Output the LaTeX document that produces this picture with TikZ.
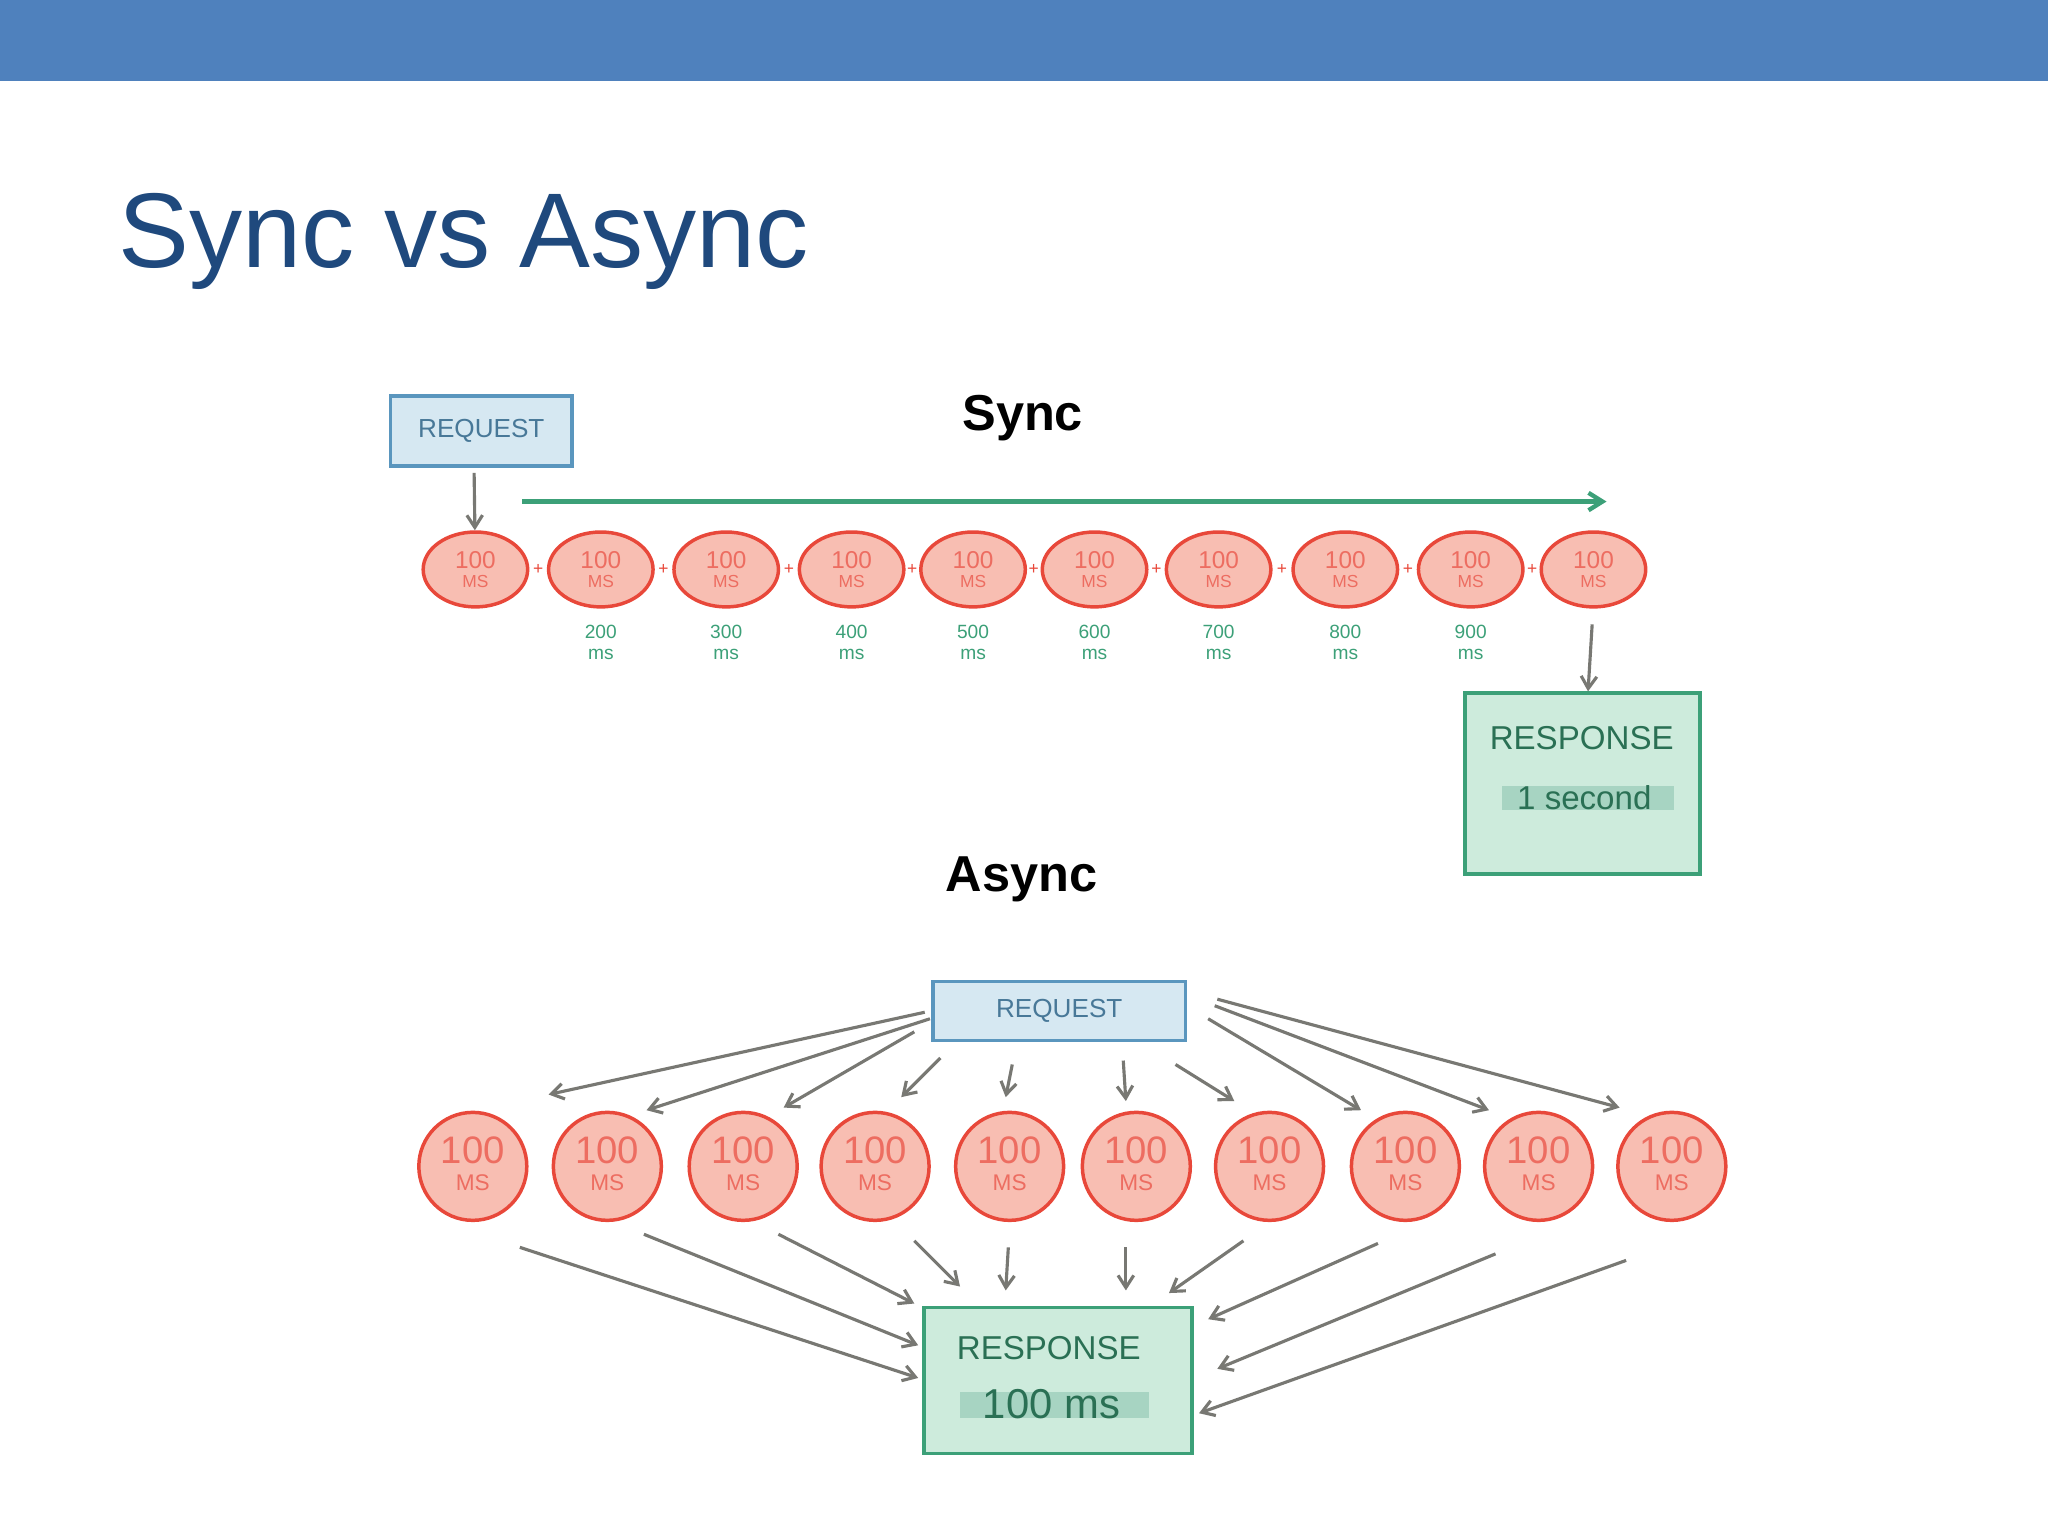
\documentclass[tikz,border=0pt]{standalone}
\usepackage{fontspec}
\setmainfont{Liberation Sans}
\usetikzlibrary{shapes.geometric,arrows.meta,calc}
\definecolor{bar}{RGB}{79,129,189}
\definecolor{ttl}{RGB}{31,73,125}
\definecolor{cfill}{RGB}{248,190,178}
\definecolor{cline}{RGB}{232,72,58}
\definecolor{bfill}{RGB}{214,232,242}
\definecolor{bline}{RGB}{90,150,190}
\definecolor{gfill}{RGB}{205,235,220}
\definecolor{gline}{RGB}{60,160,120}
\definecolor{arr}{RGB}{120,120,115}
\begin{document}
\begin{tikzpicture}[x=0.75pt,y=-0.75pt,
 circ/.style={ellipse,draw=cline,line width=2pt,fill=cfill,minimum width=#1},
 ctext/.style={text=cline!80,font=\fontsize{14}{14}\selectfont,align=center},
 rq/.style={draw=bline,line width=2pt,fill=bfill,text=bline!80!black,font=\fontsize{15}{15}\selectfont},
 rs/.style={draw=gline,line width=2pt,fill=gfill,text=gline!70!black},
 ga/.style={draw=arr,line width=1.8pt,-{Straight Barb[length=7pt,width=9pt]}},
 lbl/.style={text=gline,font=\fontsize{11}{12}\selectfont,align=center}]
\useasboundingbox (0,0) rectangle (1568,1176);
\fill[bar] (0,0) rectangle (1568,62);
\node[anchor=base west,text=ttl,font=\fontsize{61}{61}\selectfont] (title) at (86,205) {Sync vs Async};
\node[font=\bfseries\fontsize{29}{29}\selectfont] (synclbl) at (783,320) {Sync};
\node[font=\bfseries\fontsize{29}{29}\selectfont] (asynclbl) at (782,673) {Async};
% sync
\node[rq,minimum width=104pt,minimum height=40pt] (rq1) at (368.5,330) {REQUEST};
\coordinate (g1) at (400,384); \coordinate (g2) at (1230,384);
\draw[gline,line width=2.5pt,-{Straight Barb[length=8pt,width=10pt]}] (g1) -- (g2);
\foreach \x [count=\i] in {364,460,556,652,745,838,933,1030,1126,1220}{
 \node[circ=60pt,minimum height=43pt] (s\i) at (\x,436) {};
 \node[ctext] at (\x,436) {100\\[-3pt]{\fontsize{10}{10}\selectfont MS}};
}
\foreach \i [evaluate=\i as \j using int(\i+1)] in {1,...,9}{
 \path (s\i) -- node[text=cline,font=\fontsize{10}{10}\selectfont] {+} (s\j);
}
\foreach \i/\v in {2/200,3/300,4/400,5/500,6/600,7/700,8/800,9/900}{
 \node[lbl] at ($(s\i)+(0,56)$) {\v\\ms};
}
\coordinate (r1a) at (363,362);
\draw[ga] (r1a) -- (s1);
\node[rs,minimum width=135pt,minimum height=104pt] (rs1) at (1211.5,600) {};
\coordinate (s10b) at (1219,478);
\draw[ga] (s10b) -- (rs1);
\node[text=gline!70!black,font=\fontsize{19}{19}\selectfont] at (1211,565) {RESPONSE};
\fill[gline!45] (1150,602) rectangle (1282,620);
\node[text=gline!70!black,font=\fontsize{19}{19}\selectfont] at (1213,611) {1 second};
% async
\node[rq,minimum width=145pt,minimum height=34pt] (rq2) at (811,774) {REQUEST};
\foreach \x [count=\i] in {362,465,569,670,773,870,972,1076,1178,1280}{
 \node[circ=62pt,minimum height=62pt] (a\i) at (\x,893) {};
 \node[ctext,font=\fontsize{22}{22}\selectfont] at (\x,891) {100\\[-6pt]{\fontsize{13}{13}\selectfont MS}};
}
\node[rs,minimum width=154pt,minimum height=84pt] (rs2) at (810,1057) {};
\node[text=gline!70!black,font=\fontsize{19}{19}\selectfont] at (803,1032) {RESPONSE};
\fill[gline!45] (735,1066) rectangle (880,1086);
\node[text=gline!70!black,font=\fontsize{24}{24}\selectfont] at (805,1075) {100 ms};
% top arrows: start/end points
\foreach \sx/\sy/\ex/\ey [count=\i] in {
 708/775/420/838, 712/780/495/850, 700/790/600/848, 720/810/690/840, 775/815/770/840,
 860/812/862/843, 900/815/945/843, 925/780/1042/850, 930/770/1140/850, 932/765/1240/848}{
 \coordinate (ts\i) at (\sx,\sy); \coordinate (te\i) at (\ex,\ey);
 \draw[ga] (ts\i) -- (te\i);
}
\foreach \sx/\sy/\ex/\ey [count=\i] in {
 398/955/703/1055, 493/945/703/1030, 596/945/700/998, 700/950/735/985, 772/955/770/988,
 862/955/862/988, 952/950/895/990, 1055/952/925/1010, 1145/960/932/1048, 1245/965/918/1082}{
 \coordinate (bs\i) at (\sx,\sy); \coordinate (be\i) at (\ex,\ey);
 \draw[ga] (bs\i) -- (be\i);
}
\end{tikzpicture}
\end{document}
